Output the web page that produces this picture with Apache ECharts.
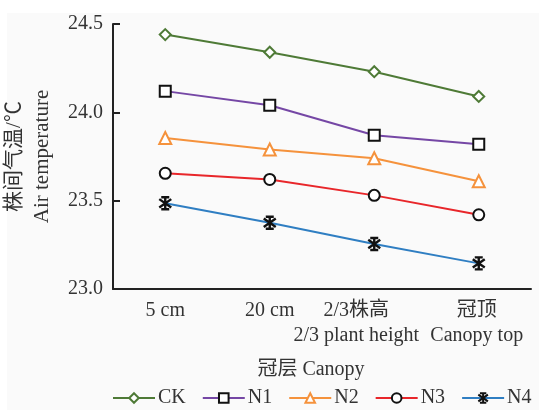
<!DOCTYPE html>
<html>
<head>
<meta charset="utf-8">
<script src="https://cdn.jsdelivr.net/npm/echarts@6/dist/echarts.min.js"></script>
<style>
  html, body { margin: 0; padding: 0; background: #ffffff; }
  #chart { width: 541px; height: 410px; }
</style>
</head>
<body>
<div id="chart"></div>
<script>
// Canopy positions (x axis)
const categories = ['5 cm', '20 cm', '2/3株高\n2/3 plant height', '冠顶\nCanopy top'];
// Air temperature (℃) by treatment
const ck = [24.44, 24.34, 24.23, 24.09];
const n1 = [24.12, 24.04, 23.87, 23.82];
const n2 = [23.855, 23.79, 23.74, 23.61];
const n3 = [23.655, 23.62, 23.53, 23.42];
const n4 = [23.485, 23.375, 23.255, 23.145];
const yTicks = [23.0, 23.5, 24.0, 24.5];

const serif = '"Liberation Serif", "Noto Sans CJK SC", serif';
const asterisk = 'path://M5 0 L5 10 M2 0 L8 0 M2 10 L8 10 M0.5 1.5 L9.5 8.5 M9.5 1.5 L0.5 8.5';

function makeSeries(name, data, color, symbol, markColor, size) {
  return {
    name: name,
    type: 'line',
    data: data,
    symbol: symbol,
    symbolSize: size,
    lineStyle: { color: color, width: 2 },
    itemStyle: { color: symbol === asterisk ? markColor : '#ffffff', borderColor: markColor, borderWidth: symbol === asterisk ? 2.4 : 2 },
    emphasis: { disabled: true },
    z: 3
  };
}

const chart = echarts.init(document.getElementById('chart'), null, { renderer: 'canvas' });
chart.setOption({
  animation: false,
  backgroundColor: 'transparent',
  graphic: [{
    type: 'rect', left: 7, top: 13, z: -10,
    shape: { width: 532, height: 397 },
    style: { fill: '#fafafa' }
  }],
  grid: { left: 113, right: 10, top: 24, bottom: 121, containLabel: false, outerBoundsMode: 'none' },
  legend: {
    bottom: -3,
    left: 107,
    itemWidth: 42,
    itemHeight: 12,
    itemGap: 16,
    textStyle: { fontFamily: serif, fontSize: 20, color: '#333333', padding: [0, 0, 0, -2] },
    data: ['CK', 'N1', 'N2', 'N3', 'N4']
  },
  xAxis: {
    type: 'category',
    data: categories.map((c, i) => i === 2 ? { value: c, textStyle: { padding: [0, 36, 0, 0] } } : (i === 3 ? { value: c, textStyle: { padding: [0, 4, 0, 0] } } : c)),
    boundaryGap: true,
    name: '冠层 Canopy',
    nameLocation: 'middle',
    nameGap: 71,
    nameTextStyle: { fontFamily: serif, fontSize: 20, color: '#333333', padding: [0, 22, 0, 0] },
    axisLine: { lineStyle: { color: '#222222', width: 2 } },
    axisTick: { inside: true, length: 7, lineStyle: { color: '#222222', width: 2 } },
    axisLabel: { fontFamily: serif, fontSize: 20, color: '#333333', margin: 9, lineHeight: 25, interval: 0 },
    splitLine: { show: false }
  },
  yAxis: {
    type: 'value',
    min: yTicks[0],
    max: yTicks[yTicks.length - 1],
    interval: 0.5,
    name: '株间气温/℃\nAir temperature',
    nameLocation: 'middle',
    nameRotate: 90,
    nameGap: 57,
    nameMoveOverlap: false,
    nameTextStyle: { fontFamily: serif, fontSize: 21, color: '#333333', lineHeight: 28 },
    axisLine: { show: true, lineStyle: { color: '#222222', width: 2 } },
    axisTick: { show: true, inside: true, length: 7, lineStyle: { color: '#222222', width: 2 } },
    axisLabel: { fontFamily: serif, fontSize: 20, color: '#333333', margin: 10, formatter: v => v.toFixed(1) },
    splitLine: { show: false }
  },
  series: [
    makeSeries('CK', ck, '#4e7a36', 'diamond', '#4e7a36', 11),
    makeSeries('N1', n1, '#7547a5', 'rect', '#111111', 11),
    makeSeries('N2', n2, '#f5923c', 'triangle', '#f5923c', 12),
    makeSeries('N3', n3, '#e8262a', 'circle', '#111111', 11),
    makeSeries('N4', n4, '#2f7ec2', asterisk, '#111111', 12)
  ]
});
</script>
</body>
</html>
